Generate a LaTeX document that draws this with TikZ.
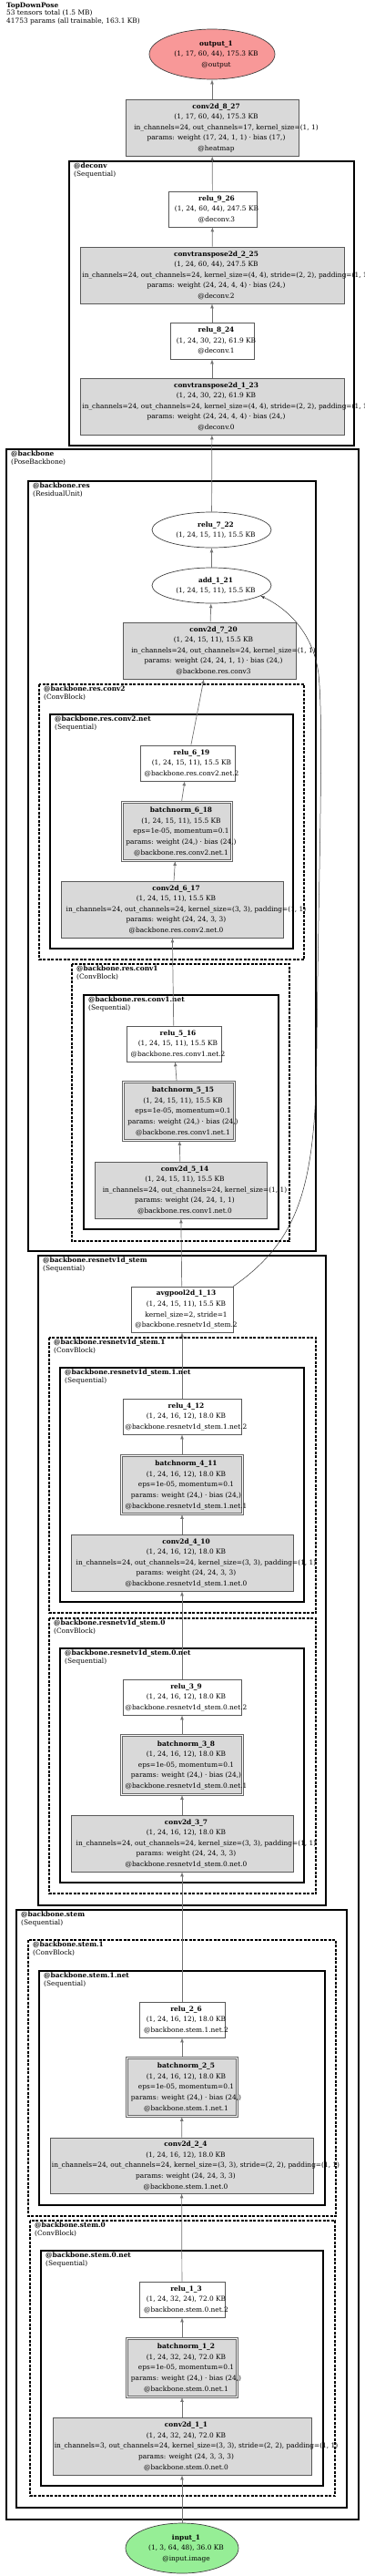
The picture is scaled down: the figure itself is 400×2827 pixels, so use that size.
\documentclass[tikz,border=0pt]{standalone}
\usepackage{fontspec}
\setmainfont{DejaVu Serif}
\usetikzlibrary{shapes.geometric}
\definecolor{outred}{RGB}{248,152,152}
\definecolor{ingreen}{RGB}{150,238,150}
\definecolor{opgray}{RGB}{217,217,217}
\newcommand{\optext}[2]{\makebox[0pt]{\hspace*{9pt}\begin{tabular}{@{}c@{}}\textbf{#1}\\#2\end{tabular}}}
\newcommand{\argline}[1]{\hspace*{22pt}#1}
\tikzset{
  op/.style={rectangle, draw=black!65, line width=0.7pt, fill=opgray, inner sep=0pt, font=\fontsize{7.4}{11.6}\selectfont},
  actbox/.style={op, fill=white},
  normbox/.style={op, draw=black!60, line width=0.9pt, double=white, double distance=1.5pt},
  tensor/.style={ellipse, draw=black!75, line width=0.7pt, inner sep=0pt, font=\fontsize{7.4}{11.6}\selectfont},
  thickcluster/.style={line width=2pt},
  blockcluster/.style={line width=1.6pt, dash pattern=on 3pt off 1.5pt},
  netcluster/.style={line width=1.2pt},
  clusterlabel/.style={anchor=north west, inner sep=0pt, align=left, font=\fontsize{7.4}{8.7}\selectfont},
  flow/.style={->, >=latex, draw=black!55, line width=0.7pt}
}
\begin{document}
\begin{tikzpicture}[x=1pt,y=-1pt]
\fill[white] (0,0) rectangle (400,2827);
\node[clusterlabel] (title) at (7,2.5) {\textbf{TopDownPose}\\53 tensors total (1.5 MB)\\41753 params (all trainable, 163.1 KB)};

%%% clusters
\draw[thickcluster] (76,177) rectangle (389,489);
\node[clusterlabel] (deconv) at (81,178.5) {\textbf{@deconv}\\(Sequential)};
\draw[thickcluster] (7,493) rectangle (394,2765);
\node[clusterlabel] (backbone) at (12,494.5) {\textbf{@backbone}\\(PoseBackbone)};
\draw[thickcluster] (31,528) rectangle (347,1373);
\node[clusterlabel] (res) at (36,529.5) {\textbf{@backbone.res}\\(ResidualUnit)};
\draw[blockcluster] (43,751) rectangle (334,1053);
\node[clusterlabel] (res_conv2) at (48,752.5) {\textbf{@backbone.res.conv2}\\(ConvBlock)};
\draw[netcluster] (55,784) rectangle (322,1041);
\node[clusterlabel] (res_conv2_net) at (60,785.5) {\textbf{@backbone.res.conv2.net}\\(Sequential)};
\draw[blockcluster] (79,1058) rectangle (318,1362);
\node[clusterlabel] (res_conv1) at (84,1059.5) {\textbf{@backbone.res.conv1}\\(ConvBlock)};
\draw[netcluster] (92,1092) rectangle (306,1349);
\node[clusterlabel] (res_conv1_net) at (97,1093.5) {\textbf{@backbone.res.conv1.net}\\(Sequential)};
\draw[thickcluster] (42,1378) rectangle (358,2091);
\node[clusterlabel] (rstem) at (47,1379.5) {\textbf{@backbone.resnetv1d\_stem}\\(Sequential)};
\draw[blockcluster] (54,1468) rectangle (347,1770);
\node[clusterlabel] (rstem_1) at (59,1469.5) {\textbf{@backbone.resnetv1d\_stem.1}\\(ConvBlock)};
\draw[netcluster] (66,1501) rectangle (334,1758);
\node[clusterlabel] (rstem_1_net) at (71,1502.5) {\textbf{@backbone.resnetv1d\_stem.1.net}\\(Sequential)};
\draw[blockcluster] (54,1776) rectangle (347,2078);
\node[clusterlabel] (rstem_0) at (59,1777.5) {\textbf{@backbone.resnetv1d\_stem.0}\\(ConvBlock)};
\draw[netcluster] (66,1809) rectangle (334,2066);
\node[clusterlabel] (rstem_0_net) at (71,1810.5) {\textbf{@backbone.resnetv1d\_stem.0.net}\\(Sequential)};
\draw[thickcluster] (18,2096) rectangle (381,2752);
\node[clusterlabel] (stem) at (23,2097.5) {\textbf{@backbone.stem}\\(Sequential)};
\draw[blockcluster] (31,2129) rectangle (369,2432);
\node[clusterlabel] (stem_1) at (36,2130.5) {\textbf{@backbone.stem.1}\\(ConvBlock)};
\draw[netcluster] (43,2163) rectangle (357,2420);
\node[clusterlabel] (stem_1_net) at (48,2164.5) {\textbf{@backbone.stem.1.net}\\(Sequential)};
\draw[blockcluster] (33,2437) rectangle (368,2739);
\node[clusterlabel] (stem_0) at (38,2438.5) {\textbf{@backbone.stem.0}\\(ConvBlock)};
\draw[netcluster] (45,2470) rectangle (355,2728);
\node[clusterlabel] (stem_0_net) at (50,2471.5) {\textbf{@backbone.stem.0.net}\\(Sequential)};

%%% head
\node[tensor, fill=outred, minimum width=138, minimum height=55] (output_1) at (233,59.5) {\optext{output\_1}{(1, 17, 60, 44), 175.3 KB\\@output}};
\node[op, minimum width=190, minimum height=62] (conv2d_8_27) at (233,140) {\optext{conv2d\_8\_27}{(1, 17, 60, 44), 175.3 KB\\\argline{in\_channels=24, out\_channels=17, kernel\_size=(1, 1)}\\params: weight (17, 24, 1, 1) · bias (17,)\\@heatmap}};
\node[actbox, minimum width=97, minimum height=39] (relu_9_26) at (233.5,229.5) {\optext{relu\_9\_26}{(1, 24, 60, 44), 247.5 KB\\@deconv.3}};
\node[op, minimum width=290, minimum height=62] (convtranspose2d_2_25) at (233,302) {\optext{convtranspose2d\_2\_25}{(1, 24, 60, 44), 247.5 KB\\\argline{in\_channels=24, out\_channels=24, kernel\_size=(4, 4), stride=(2, 2), padding=(1, 1)}\\params: weight (24, 24, 4, 4) · bias (24,)\\@deconv.2}};
\node[actbox, minimum width=92, minimum height=40] (relu_8_24) at (233,374) {\optext{relu\_8\_24}{(1, 24, 30, 22), 61.9 KB\\@deconv.1}};
\node[op, minimum width=290, minimum height=62] (convtranspose2d_1_23) at (233,446) {\optext{convtranspose2d\_1\_23}{(1, 24, 30, 22), 61.9 KB\\\argline{in\_channels=24, out\_channels=24, kernel\_size=(4, 4), stride=(2, 2), padding=(1, 1)}\\params: weight (24, 24, 4, 4) · bias (24,)\\@deconv.0}};

%%% residual unit
\node[tensor, fill=white, minimum width=131, minimum height=39] (relu_7_22) at (232.5,581.5) {\optext{relu\_7\_22}{(1, 24, 15, 11), 15.5 KB}};
\node[tensor, fill=white, minimum width=131, minimum height=39] (add_1_21) at (232.5,642.5) {\optext{add\_1\_21}{(1, 24, 15, 11), 15.5 KB}};
\node[op, minimum width=190, minimum height=62] (conv2d_7_20) at (230,714) {\optext{conv2d\_7\_20}{(1, 24, 15, 11), 15.5 KB\\\argline{in\_channels=24, out\_channels=24, kernel\_size=(1, 1)}\\params: weight (24, 24, 1, 1) · bias (24,)\\@backbone.res.conv3}};
\node[actbox, minimum width=104, minimum height=39] (relu_6_19) at (206,837.5) {\optext{relu\_6\_19}{(1, 24, 15, 11), 15.5 KB\\@backbone.res.conv2.net.2}};
\node[normbox, minimum width=120, minimum height=64] (batchnorm_6_18) at (194.5,912.5) {\optext{batchnorm\_6\_18}{(1, 24, 15, 11), 15.5 KB\\eps=1e-05, momentum=0.1\\params: weight (24,) · bias (24,)\\@backbone.res.conv2.net.1}};
\node[op, minimum width=244, minimum height=62] (conv2d_6_17) at (189,998) {\optext{conv2d\_6\_17}{(1, 24, 15, 11), 15.5 KB\\\argline{in\_channels=24, out\_channels=24, kernel\_size=(3, 3), padding=(1, 1)}\\params: weight (24, 24, 3, 3)\\@backbone.res.conv2.net.0}};
\node[actbox, minimum width=104, minimum height=39] (relu_5_16) at (191,1145.5) {\optext{relu\_5\_16}{(1, 24, 15, 11), 15.5 KB\\@backbone.res.conv1.net.2}};
\node[normbox, minimum width=122, minimum height=64] (batchnorm_5_15) at (196.5,1219.5) {\optext{batchnorm\_5\_15}{(1, 24, 15, 11), 15.5 KB\\eps=1e-05, momentum=0.1\\params: weight (24,) · bias (24,)\\@backbone.res.conv1.net.1}};
\node[op, minimum width=189, minimum height=62] (conv2d_5_14) at (198.5,1306) {\optext{conv2d\_5\_14}{(1, 24, 15, 11), 15.5 KB\\\argline{in\_channels=24, out\_channels=24, kernel\_size=(1, 1)}\\params: weight (24, 24, 1, 1)\\@backbone.res.conv1.net.0}};

%%% resnetv1d stem
\node[actbox, minimum width=112, minimum height=50] (avgpool2d_1_13) at (200,1437) {\optext{avgpool2d\_1\_13}{(1, 24, 15, 11), 15.5 KB\\kernel\_size=2, stride=1\\@backbone.resnetv1d\_stem.2}};
\node[actbox, minimum width=130, minimum height=39] (relu_4_12) at (200,1554.5) {\optext{relu\_4\_12}{(1, 24, 16, 12), 18.0 KB\\@backbone.resnetv1d\_stem.1.net.2}};
\node[normbox, minimum width=133, minimum height=64] (batchnorm_4_11) at (200,1629.5) {\optext{batchnorm\_4\_11}{(1, 24, 16, 12), 18.0 KB\\eps=1e-05, momentum=0.1\\params: weight (24,) · bias (24,)\\@backbone.resnetv1d\_stem.1.net.1}};
\node[op, minimum width=244, minimum height=62] (conv2d_4_10) at (200,1715) {\optext{conv2d\_4\_10}{(1, 24, 16, 12), 18.0 KB\\\argline{in\_channels=24, out\_channels=24, kernel\_size=(3, 3), padding=(1, 1)}\\params: weight (24, 24, 3, 3)\\@backbone.resnetv1d\_stem.1.net.0}};
\node[actbox, minimum width=130, minimum height=39] (relu_3_9) at (200,1862.5) {\optext{relu\_3\_9}{(1, 24, 16, 12), 18.0 KB\\@backbone.resnetv1d\_stem.0.net.2}};
\node[normbox, minimum width=133, minimum height=65] (batchnorm_3_8) at (200,1937) {\optext{batchnorm\_3\_8}{(1, 24, 16, 12), 18.0 KB\\eps=1e-05, momentum=0.1\\params: weight (24,) · bias (24,)\\@backbone.resnetv1d\_stem.0.net.1}};
\node[op, minimum width=244, minimum height=62] (conv2d_3_7) at (200,2023) {\optext{conv2d\_3\_7}{(1, 24, 16, 12), 18.0 KB\\\argline{in\_channels=24, out\_channels=24, kernel\_size=(3, 3), padding=(1, 1)}\\params: weight (24, 24, 3, 3)\\@backbone.resnetv1d\_stem.0.net.0}};

%%% stem
\node[actbox, minimum width=94, minimum height=39] (relu_2_6) at (200,2216.5) {\optext{relu\_2\_6}{(1, 24, 16, 12), 18.0 KB\\@backbone.stem.1.net.2}};
\node[normbox, minimum width=121, minimum height=64] (batchnorm_2_5) at (200,2290.5) {\optext{batchnorm\_2\_5}{(1, 24, 16, 12), 18.0 KB\\eps=1e-05, momentum=0.1\\params: weight (24,) · bias (24,)\\@backbone.stem.1.net.1}};
\node[op, minimum width=289, minimum height=61] (conv2d_2_4) at (199.5,2376.5) {\optext{conv2d\_2\_4}{(1, 24, 16, 12), 18.0 KB\\\argline{in\_channels=24, out\_channels=24, kernel\_size=(3, 3), stride=(2, 2), padding=(1, 1)}\\params: weight (24, 24, 3, 3)\\@backbone.stem.1.net.0}};
\node[actbox, minimum width=94, minimum height=39] (relu_1_3) at (200,2523.5) {\optext{relu\_1\_3}{(1, 24, 32, 24), 72.0 KB\\@backbone.stem.0.net.2}};
\node[normbox, minimum width=121, minimum height=64] (batchnorm_1_2) at (200,2598.5) {\optext{batchnorm\_1\_2}{(1, 24, 32, 24), 72.0 KB\\eps=1e-05, momentum=0.1\\params: weight (24,) · bias (24,)\\@backbone.stem.0.net.1}};
\node[op, minimum width=284, minimum height=63] (conv2d_1_1) at (200,2684.5) {\optext{conv2d\_1\_1}{(1, 24, 32, 24), 72.0 KB\\\argline{in\_channels=3, out\_channels=24, kernel\_size=(3, 3), stride=(2, 2), padding=(1, 1)}\\params: weight (24, 3, 3, 3)\\@backbone.stem.0.net.0}};
\node[tensor, fill=ingreen, minimum width=124, minimum height=55] (input_1) at (200,2796.5) {\optext{input\_1}{(1, 3, 64, 48), 36.0 KB\\@input.image}};

%%% data flow, bottom to top
\draw[flow] (input_1) -- (conv2d_1_1);
\draw[flow] (conv2d_1_1) -- (batchnorm_1_2);
\draw[flow] (batchnorm_1_2) -- (relu_1_3);
\draw[flow] (relu_1_3) -- (conv2d_2_4);
\draw[flow] (conv2d_2_4) -- (batchnorm_2_5);
\draw[flow] (batchnorm_2_5) -- (relu_2_6);
\draw[flow] (relu_2_6) -- (conv2d_3_7);
\draw[flow] (conv2d_3_7) -- (batchnorm_3_8);
\draw[flow] (batchnorm_3_8) -- (relu_3_9);
\draw[flow] (relu_3_9) -- (conv2d_4_10);
\draw[flow] (conv2d_4_10) -- (batchnorm_4_11);
\draw[flow] (batchnorm_4_11) -- (relu_4_12);
\draw[flow] (relu_4_12) -- (avgpool2d_1_13);
\draw[flow] (avgpool2d_1_13) -- (conv2d_5_14);
\draw[flow] (conv2d_5_14) -- (batchnorm_5_15);
\draw[flow] (batchnorm_5_15) -- (relu_5_16);
\draw[flow] (relu_5_16) -- (conv2d_6_17);
\draw[flow] (conv2d_6_17) -- (batchnorm_6_18);
\draw[flow] (batchnorm_6_18) -- (relu_6_19);
\draw[flow] (relu_6_19) -- (conv2d_7_20);
\draw[flow] (conv2d_7_20) -- (add_1_21);
\draw[flow, black!80, line width=0.5pt] (avgpool2d_1_13.north east) .. controls (330,1360) and (347,1300) .. (348,1150) .. controls (350,950) and (356,800) .. (350,740) .. controls (344,690) and (310,665) .. (add_1_21.-12);
\draw[flow] (add_1_21) -- (relu_7_22);
\draw[flow] (relu_7_22) -- (convtranspose2d_1_23);
\draw[flow] (convtranspose2d_1_23) -- (relu_8_24);
\draw[flow] (relu_8_24) -- (convtranspose2d_2_25);
\draw[flow] (convtranspose2d_2_25) -- (relu_9_26);
\draw[flow] (relu_9_26) -- (conv2d_8_27);
\draw[flow] (conv2d_8_27) -- (output_1);
\end{tikzpicture}
\end{document}
